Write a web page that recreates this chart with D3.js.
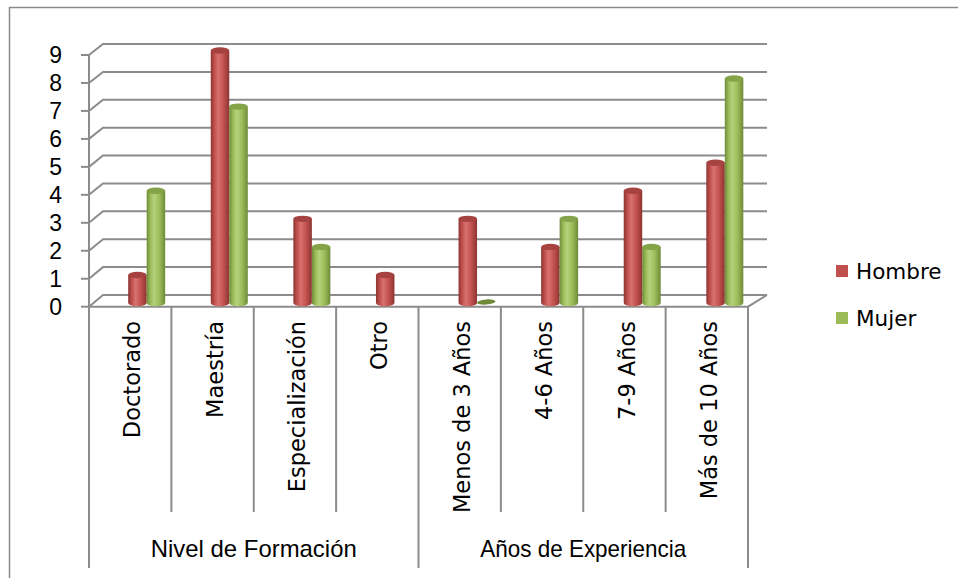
<!DOCTYPE html>
<html>
<head>
<meta charset="utf-8">
<script src="https://cdn.jsdelivr.net/npm/d3@7"></script>
<style>
  body { margin: 0; background: #fff; }
  svg { display: block; }
  text { fill: #000; }
</style>
</head>
<body>
<div id="chart"></div>
<script>
// Data
const categories = ["Doctorado", "Maestría", "Especialización", "Otro",
  "Menos de 3 Años", "4-6 Años", "7-9 Años", "Más de 10 Años"];
const groupNames = ["Nivel de Formación", "Años de Experiencia"];
const groupSizes = [4, 4];
const seriesNames = ["Hombre", "Mujer"];
const hombre = [1, 9, 3, 1, 3, 2, 4, 5];
const mujer = [4, 7, 2, null, 0, 3, 2, 8];
const yTicks = [0, 1, 2, 3, 4, 5, 6, 7, 8, 9];

const W = 958, H = 578;
const gridColor = "#8c8c8c";
const colors = { Hombre: "#c0504d", Mujer: "#9bbb59" };
const darks = { Hombre: "#8c3532", Mujer: "#6e8a38" };
const lights = { Hombre: "#d9726f", Mujer: "#b5d27a" };

const svg = d3.select("#chart").append("svg")
  .attr("width", W)
  .attr("height", H);

// outer frame
svg.append("rect")
  .attr("x", 9.5).attr("y", 7.5)
  .attr("width", W).attr("height", H)
  .attr("fill", "none")
  .attr("stroke", "#8a8a8a")
  .attr("stroke-width", 1.5);

// scales: front plane, back wall and the bar plane
const x = d3.scaleBand().domain(categories).range([89, 748]);
const y = d3.scaleLinear().domain([0, 9]).range([306.7, 55]);
const yBack = d3.scaleLinear().domain([0, 9]).range([295, 44]);
const yBar = d3.scaleLinear().domain([0, 9]).range([303, 50.5]);

const grid = svg.append("g")
  .attr("stroke", gridColor)
  .attr("stroke-width", 2)
  .attr("fill", "none");

// gridlines on side wall and back wall
yTicks.forEach(v => {
  grid.append("path")
    .attr("d", `M89,${y(v)} L103,${yBack(v)} L767,${yBack(v)}`);
  // tick mark
  grid.append("line")
    .attr("x1", 81).attr("x2", 89)
    .attr("y1", y(v)).attr("y2", y(v));
});

// y axis line
grid.append("line")
  .attr("x1", 89).attr("x2", 89)
  .attr("y1", y(9)).attr("y2", y(0));

// floor edges
grid.append("path")
  .attr("d", `M89,${y(0)} L748,${y(0)} L767,${yBack(0)}`);

// category dividers
const groupEdges = [0];
groupSizes.reduce((acc, s) => { groupEdges.push(acc + s); return acc + s; }, 0);
d3.range(categories.length + 1).forEach(i => {
  const xx = i < categories.length ? x(categories[i]) : x.range()[1];
  grid.append("line")
    .attr("x1", xx).attr("x2", xx)
    .attr("y1", y(0))
    .attr("y2", groupEdges.includes(i) ? 568 : 512);
});

// y tick labels
svg.append("g")
  .selectAll("text")
  .data(yTicks)
  .join("text")
  .attr("x", 62)
  .attr("y", d => y(d))
  .attr("dy", "0.36em")
  .attr("text-anchor", "end")
  .style("font-family", "'Liberation Sans', Arial, sans-serif")
  .style("font-size", "23px")
  .text(d => d);

// category labels (rotated)
svg.append("g")
  .selectAll("text")
  .data(categories)
  .join("text")
  .attr("transform", d => `translate(${x(d) + x.bandwidth() / 2 + 2},321) rotate(-90)`)
  .attr("text-anchor", "end")
  .attr("dy", "0.36em")
  .style("font-family", "'DejaVu Sans', Verdana, sans-serif")
  .style("font-size", "22.5px")
  .text(d => d);

// group labels
let start = 0;
groupNames.forEach((g, i) => {
  const x0 = x(categories[start]);
  const last = start + groupSizes[i] - 1;
  const x1 = x(categories[last]) + x.bandwidth();
  svg.append("text")
    .attr("x", (x0 + x1) / 2)
    .attr("y", 557)
    .attr("text-anchor", "middle")
    .style("font-family", "'Liberation Sans', Arial, sans-serif")
    .style("font-size", "24px")
    .attr("textLength", 206)
    .attr("lengthAdjust", "spacingAndGlyphs")
    .text(g);
  start += groupSizes[i];
});

// gradients for cylinders
const defs = svg.append("defs");
seriesNames.forEach(s => {
  const grad = defs.append("linearGradient")
    .attr("id", "grad-" + s)
    .attr("x1", "0%").attr("x2", "100%")
    .attr("y1", "0%").attr("y2", "0%");
  grad.append("stop").attr("offset", "0%").attr("stop-color", darks[s]);
  grad.append("stop").attr("offset", "20%").attr("stop-color", colors[s]);
  grad.append("stop").attr("offset", "40%").attr("stop-color", lights[s]);
  grad.append("stop").attr("offset", "70%").attr("stop-color", colors[s]);
  grad.append("stop").attr("offset", "100%").attr("stop-color", darks[s]);
});

// bars as cylinders
const barW = 18.5;
const ry = 3.2;
const shift = d3.scaleLinear().domain([0, categories.length - 1]).range([16.5, 18]);
const series = [
  { name: "Hombre", values: hombre },
  { name: "Mujer", values: mujer }
];

const bars = svg.append("g");
series.forEach((s, si) => {
  s.values.forEach((v, i) => {
    if (v === null) return;
    const center = x(categories[i]) + x.bandwidth() / 2 + shift(i);
    const x0 = center - barW + si * barW;
    const x1 = x0 + barW;
    const rx = barW / 2;
    const yb = yBar(0);
    const yt = yBar(v);
    if (v === 0) {
      bars.append("ellipse")
        .attr("cx", x0 + rx).attr("cy", yb - 1)
        .attr("rx", rx).attr("ry", ry * 0.8)
        .attr("fill", darks[s.name])
        .attr("transform", `rotate(-4,${x0 + rx},${yb - 1})`);
      return;
    }
    bars.append("path")
      .attr("d", `M${x0},${yt} L${x0},${yb} A${rx},${ry} 0 0 0 ${x1},${yb} L${x1},${yt} Z`)
      .attr("fill", `url(#grad-${s.name})`);
    bars.append("ellipse")
      .attr("cx", x0 + rx).attr("cy", yt)
      .attr("rx", rx).attr("ry", ry)
      .attr("fill", d3.interpolateRgb(colors[s.name], darks[s.name])(0.5));
  });
});

// legend
const legend = svg.append("g");
seriesNames.forEach((s, i) => {
  const ly = 271 + i * 47;
  legend.append("rect")
    .attr("x", 836).attr("y", ly - 6)
    .attr("width", 12).attr("height", 12)
    .attr("fill", colors[s]);
  legend.append("text")
    .attr("x", 856).attr("y", ly)
    .attr("dy", "0.36em")
    .style("font-family", "'DejaVu Sans', Verdana, sans-serif")
    .style("font-size", "21.5px")
    .text(s);
});
</script>
</body>
</html>
